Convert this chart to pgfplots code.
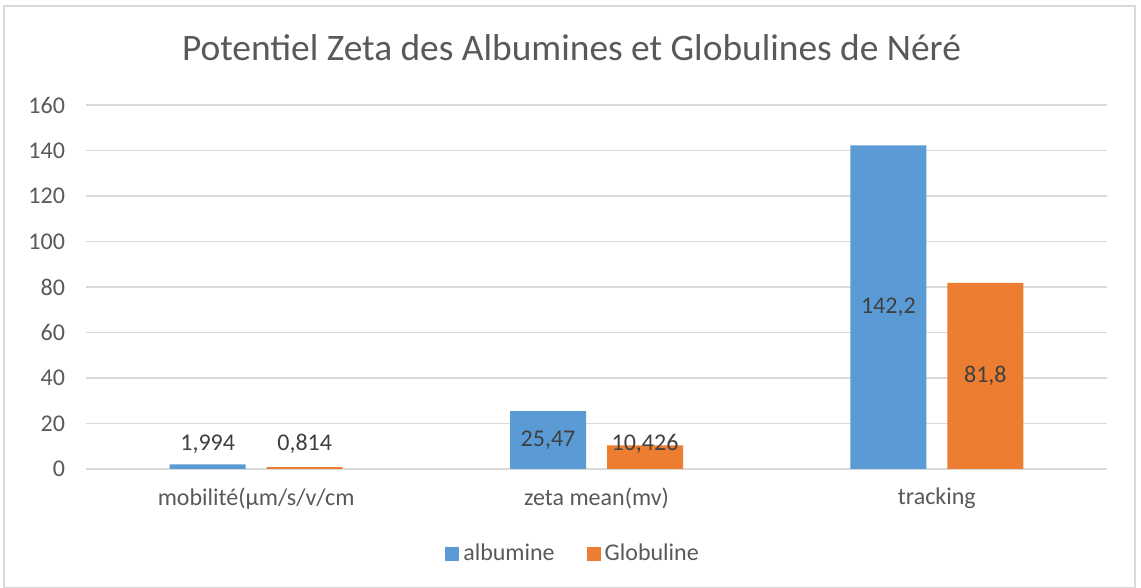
\documentclass[border=0pt]{standalone}
\usepackage{fontspec}
\setmainfont{Carlito}
\usepackage{pgfplots}
\pgfplotsset{compat=1.18}
\definecolor{cblue}{HTML}{5B9BD5}
\definecolor{corange}{HTML}{ED7D31}
\definecolor{cgrid}{HTML}{D9D9D9}
\definecolor{ctext}{HTML}{595959}
\definecolor{clabel}{HTML}{404040}
\begin{document}
\begin{tikzpicture}
\fill[white] (0,0) rectangle (570.5pt,294pt);
\draw[cgrid, line width=0.6pt] (2pt,0.3pt) rectangle (567.5pt,291pt);
\node[text=ctext, font=\fontsize{18.7}{22}\selectfont] at (285.75pt,270pt) {Potentiel Zeta des Albumines et Globulines de Néré};
\begin{axis}[
  at={(43pt,59.5pt)}, anchor=south west,
  scale only axis, width=510.5pt, height=182pt,
  xmin=-0.5, xmax=2.5, ymin=0, ymax=160,
  xtick={0,1,2}, xticklabels={mobilité(µm/s/v/cm, zeta mean(mv), tracking},
  ytick={0,20,...,160},
  ymajorgrids, major grid style={cgrid, line width=0.75pt},
  axis line style={draw=none},
  tick style={draw=none},
  ticklabel style={text=ctext, font=\fontsize{12}{14}\selectfont},
  /pgf/number format/assume math mode=true,
  yticklabel style={xshift=-7pt},
  xticklabel style={yshift=-6pt},
  legend style={at={(0.478,-0.2335)}, anchor=center, draw=none, fill=none,
    legend columns=2, font=\fontsize{12}{14}\selectfont, text=ctext,
    /tikz/every even column/.append style={column sep=14pt},
    /tikz/every odd column/.append style={column sep=0pt}},
  legend image code/.code={\fill[#1] (-2pt,-3.5pt) rectangle (5pt,3.5pt);},
]
\addplot[ybar, bar width=38pt, bar shift=-24.25pt, fill=cblue, draw=none] coordinates {(0,1.994) (1,25.47) (2,142.2)};
\addlegendentry{albumine}
\addplot[ybar, bar width=38pt, bar shift=24.25pt, fill=corange, draw=none] coordinates {(0,0.814) (1,10.426) (2,81.8)};
\addlegendentry{Globuline}
\addplot[ybar, bar width=1pt, bar shift=0pt, draw=none, fill=none, forget plot,
  nodes near coords, point meta=explicit symbolic,
  every node near coord/.append style={anchor=center, text=clabel, font=\fontsize{12}{14}\selectfont}]
  coordinates {(-0.1425,11) [1,994] (0.8575,12.735) [25,47] (1.8575,71.1) [142,2]};
\addplot[ybar, bar width=1pt, bar shift=0pt, draw=none, fill=none, forget plot,
  nodes near coords, point meta=explicit symbolic,
  every node near coord/.append style={anchor=center, text=clabel, font=\fontsize{12}{14}\selectfont}]
  coordinates {(0.1425,11) [0,814] (1.1425,11) [10,426] (2.1425,40.9) [81,8]};
\end{axis}
\end{tikzpicture}
\end{document}
